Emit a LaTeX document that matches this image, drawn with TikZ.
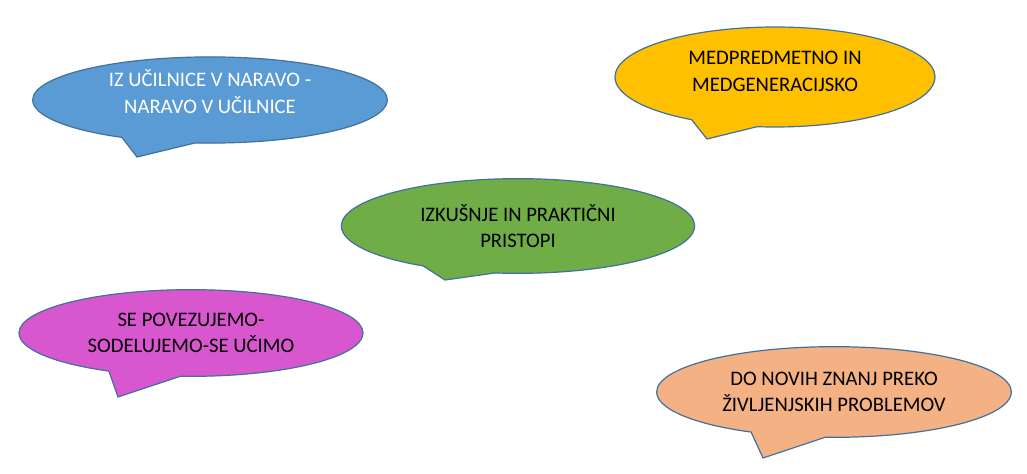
\documentclass[tikz,border=0pt]{standalone}
\usepackage{fontspec}
\setmainfont{Carlito}
\usepackage{tikz}
\usetikzlibrary{shapes.callouts}
\definecolor{bubbleblue}{HTML}{5B9BD5}
\definecolor{bubblegold}{HTML}{FFC000}
\definecolor{bubblegreen}{HTML}{70AD47}
\definecolor{bubblepink}{HTML}{D957CE}
\definecolor{bubblepeach}{HTML}{F4B183}
\definecolor{outlineblue}{HTML}{41719C}
\newcommand{\lowpad}[1]{\rule[-#1]{0pt}{0pt}}

\begin{document}
\begin{tikzpicture}[x=0.75pt, y=-0.75pt]
    % Styles
    \tikzstyle{bubble} = [ellipse callout, draw=outlineblue, line width=0.9pt, inner sep=0pt, align=center, font=\fontsize{15.5}{20}\selectfont, callout pointer arc=25]

    % Canvas
    \fill[white] (0,0) rectangle (1027,474);
    \useasboundingbox (0,0) rectangle (1027,474);

    % Pointer tips
    \coordinate (nature-tip) at (137,157);
    \coordinate (cross-tip) at (707,139);
    \coordinate (practice-tip) at (445,280);
    \coordinate (learn-tip) at (118,397);
    \coordinate (life-tip) at (763,458);

    % Bubbles
    \node[bubble, fill=bubbleblue, text=white, minimum width=266pt, minimum height=64pt, callout absolute pointer={(nature-tip)}] (nature) at (210,100) {IZ UČILNICE V NARAVO -\\NARAVO V UČILNICE\lowpad{13pt}};
    \node[bubble, fill=bubblegold, minimum width=240pt, minimum height=75pt, callout absolute pointer={(cross-tip)}] (cross) at (775,77) {MEDPREDMETNO IN\\MEDGENERACIJSKO\lowpad{9pt}};
    \node[bubble, fill=bubblegreen, minimum width=265pt, minimum height=71pt, callout absolute pointer={(practice-tip)}] (practice) at (518,226) {IZKUŠNJE IN PRAKTIČNI\\PRISTOPI};
    \node[bubble, fill=bubblepink, minimum width=258pt, minimum height=65pt, callout absolute pointer={(learn-tip)}] (learn) at (191,333) {SE POVEZUJEMO-\\SODELUJEMO-SE UČIMO};
    \node[bubble, fill=bubblepeach, minimum width=266pt, minimum height=68pt, callout absolute pointer={(life-tip)}] (life) at (834,392) {DO NOVIH ZNANJ PREKO\\ŽIVLJENJSKIH PROBLEMOV};
\end{tikzpicture}
\end{document}
